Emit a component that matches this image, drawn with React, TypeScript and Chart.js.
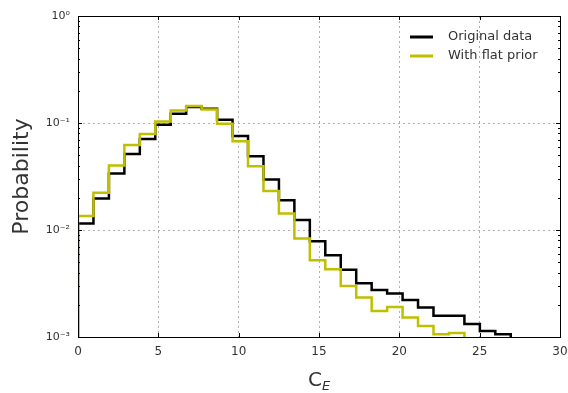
import { useEffect, useRef } from "react";
import { Chart, registerables } from "chart.js";

Chart.register(...registerables);

// ---- data ----
const binStart = 0;
const binWidth = 0.962;
const originalData = [
  0.0115, 0.0197, 0.0337, 0.0514, 0.071, 0.0964, 0.122, 0.141, 0.136, 0.107,
  0.0757, 0.0489, 0.0296, 0.019, 0.0124, 0.00783, 0.0058, 0.00425, 0.00318,
  0.00275, 0.00255, 0.00222, 0.00189, 0.00158, 0.00158, 0.00132, 0.00114, 0.00106,
];
const flatPriorData = [
  0.0135, 0.0223, 0.04, 0.0624, 0.0789, 0.1035, 0.131, 0.144, 0.134, 0.0985,
  0.0674, 0.0394, 0.0232, 0.0143, 0.00835, 0.00521, 0.0043, 0.003, 0.00234,
  0.00175, 0.00191, 0.00152, 0.00127, 0.00106, 0.00109,
];
const xTicks = [0, 5, 10, 15, 20, 25, 30];
const yTicks = [0.001, 0.01, 0.1, 1];
const yTickLabels = ["10⁻³", "10⁻²", "10⁻¹", "10⁰"];
const seriesLabels = ["Original data", "With flat prior"];
const seriesColors = ["#000000", "#bfbf00"];
const xTitle = "C";
const xTitleSub = "E";
const yTitle = "Probability";

const FONT = "'DejaVu Sans', sans-serif";
const TEXT = "#333333";

function stepPoints(values: number[]) {
  const floor = 1e-4;
  const pts: { x: number; y: number }[] = [{ x: binStart, y: floor }];
  values.forEach((v, i) => pts.push({ x: binStart + i * binWidth, y: v }));
  const end = binStart + values.length * binWidth;
  pts.push({ x: end, y: values[values.length - 1] });
  pts.push({ x: end, y: floor });
  return pts;
}

const decorPlugin = {
  id: "decor",
  afterDatasetsDraw(chart: any) {
    const { ctx, chartArea: a, scales } = chart;
    const xs = scales.x;
    const ys = scales.y;
    ctx.save();
    ctx.strokeStyle = "#000";
    ctx.lineWidth = 1;
    ctx.setLineDash([]);
    // inward ticks
    ctx.beginPath();
    xTicks.forEach((t) => {
      const px = Math.round(xs.getPixelForValue(t)) + 0.5;
      ctx.moveTo(px, a.bottom);
      ctx.lineTo(px, a.bottom - 4);
      ctx.moveTo(px, a.top);
      ctx.lineTo(px, a.top + 4);
    });
    yTicks.forEach((t) => {
      const py = Math.round(ys.getPixelForValue(t)) + 0.5;
      ctx.moveTo(a.left, py);
      ctx.lineTo(a.left + 4, py);
      ctx.moveTo(a.right, py);
      ctx.lineTo(a.right - 4, py);
    });
    for (let d = 0; d < yTicks.length - 1; d++) {
      for (let k = 2; k <= 9; k++) {
        const py = Math.round(ys.getPixelForValue(yTicks[d] * k)) + 0.5;
        ctx.moveTo(a.left, py);
        ctx.lineTo(a.left + 2, py);
        ctx.moveTo(a.right, py);
        ctx.lineTo(a.right - 2, py);
      }
    }
    ctx.stroke();
    // frame
    ctx.strokeRect(
      Math.round(a.left) + 0.5,
      Math.round(a.top) + 0.5,
      Math.round(a.right - a.left),
      Math.round(a.bottom - a.top)
    );
    ctx.restore();
  },
  afterDraw(chart: any) {
    const { ctx, chartArea: a } = chart;
    ctx.save();
    // legend
    const lx = a.right - 150;
    const rows = [a.top + 21, a.top + 40];
    seriesLabels.forEach((lab, i) => {
      ctx.strokeStyle = seriesColors[i];
      ctx.lineWidth = 3;
      ctx.beginPath();
      ctx.moveTo(lx, rows[i]);
      ctx.lineTo(lx + 23, rows[i]);
      ctx.stroke();
      ctx.fillStyle = TEXT;
      ctx.font = `13px ${FONT}`;
      ctx.textBaseline = "middle";
      ctx.textAlign = "left";
      ctx.fillText(lab, lx + 38, rows[i]);
    });
    // x title with subscript
    ctx.fillStyle = TEXT;
    ctx.textBaseline = "alphabetic";
    ctx.font = `20px ${FONT}`;
    const cw = ctx.measureText(xTitle).width;
    ctx.font = `italic 13px ${FONT}`;
    const ew = ctx.measureText(xTitleSub).width;
    const cx = (a.left + a.right) / 2 - (cw + ew) / 2;
    ctx.font = `20px ${FONT}`;
    ctx.textAlign = "left";
    ctx.fillText(xTitle, cx, 386);
    ctx.font = `italic 13px ${FONT}`;
    ctx.fillText(xTitleSub, cx + cw, 390);
    ctx.restore();
  },
};

export default function App() {
  const ref = useRef<HTMLCanvasElement | null>(null);

  useEffect(() => {
    if (!ref.current) return;
    const chart = new Chart(ref.current, {
      type: "line",
      data: {
        datasets: [
          {
            label: seriesLabels[0],
            data: stepPoints(originalData),
            borderColor: seriesColors[0],
            borderWidth: 2.5,
            stepped: true,
            pointRadius: 0,
            fill: false,
            order: 1,
            clip: 0,
          },
          {
            label: seriesLabels[1],
            data: stepPoints(flatPriorData),
            borderColor: seriesColors[1],
            borderWidth: 2.5,
            stepped: true,
            pointRadius: 0,
            fill: false,
            order: 0,
            clip: 0,
          },
        ],
      },
      options: {
        responsive: false,
        animation: false,
        devicePixelRatio: 1,
        layout: { padding: { left: 0, top: 16, right: 8, bottom: 0 } },
        plugins: { legend: { display: false }, tooltip: { enabled: false } },
        scales: {
          x: {
            type: "linear",
            min: 0,
            max: 30,
            afterBuildTicks: (s: any) => {
              s.ticks = xTicks.map((v) => ({ value: v }));
            },
            afterFit: (s: any) => {
              s.height = 56;
              s.paddingLeft = 0;
              s.paddingRight = 0;
            },
            ticks: {
              color: TEXT,
              font: { family: FONT, size: 12 },
              padding: 8,
              maxRotation: 0,
              autoSkip: false,
            },
            grid: {
              drawTicks: false,
              color: (c: any) =>
                c.tick && (c.tick.value === 0 || c.tick.value === 30) ? "rgba(0,0,0,0)" : "#b0b0b0",
            },
            border: { display: false, dash: [2, 3] },
          },
          y: {
            type: "logarithmic",
            min: 0.001,
            max: 1,
            afterBuildTicks: (s: any) => {
              s.ticks = yTicks.map((v) => ({ value: v }));
            },
            afterFit: (s: any) => {
              s.width = 78;
              s.paddingTop = 0;
              s.paddingBottom = 0;
            },
            ticks: {
              color: TEXT,
              font: { family: FONT, size: 11 },
              padding: 8,
              autoSkip: false,
              callback: (v: any) => {
                const i = yTicks.findIndex((t) => Math.abs(t - v) < t * 1e-6);
                return i >= 0 ? yTickLabels[i] : "";
              },
            },
            grid: {
              drawTicks: false,
              color: (c: any) =>
                c.tick && (c.tick.value <= 0.0011 || c.tick.value >= 0.99) ? "rgba(0,0,0,0)" : "#b0b0b0",
            },
            border: { display: false, dash: [2, 3] },
            title: {
              display: true,
              text: yTitle,
              color: TEXT,
              font: { family: FONT, size: 22 },
              padding: { top: 9, bottom: 0 },
            },
          },
        },
      },
      plugins: [decorPlugin],
    } as any);
    return () => chart.destroy();
  }, []);

  return (
    <div style={{ position: "absolute", left: 0, top: 0, width: 568, height: 393 }}>
      <canvas ref={ref} width={568} height={393} style={{ display: "block" }} />
    </div>
  );
}
